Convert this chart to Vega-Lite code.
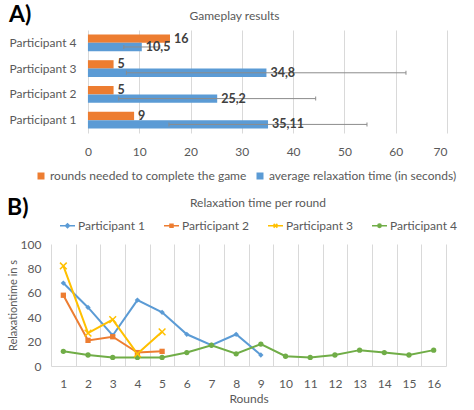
{
  "$schema": "https://vega.github.io/schema/vega-lite/v6.json",
  "background": "white",
  "padding": {"left": 7, "top": 4, "right": 4, "bottom": 4},
  "spacing": 15,
  "resolve": {"scale": {"color": "independent"}, "legend": {"color": "independent"}},
  "config": {
    "font": "Lato",
    "view": {"stroke": null},
    "axis": {"labelColor": "#595959", "titleColor": "#595959", "labelFontSize": 12, "titleFontSize": 12, "titleFontWeight": "normal", "gridColor": "#D9D9D9", "domain": false, "ticks": false},
    "legend": {"labelColor": "#595959", "labelFontSize": 12, "labelLimit": 400, "titleColor": "#595959", "titleFontSize": 12, "titleFontWeight": "normal"},
    "title": {"color": "#000000", "fontSize": 23, "fontWeight": "bold"}
  },
  "vconcat": [
    {
      "title": {"text": "A)", "anchor": "start", "frame": "bounds", "offset": -18},
      "width": 396,
      "height": 103,
      "data": {"values": [
        {"p": "Participant 1", "s": "rounds needed to complete the game", "v": 9, "lab": "9"},
        {"p": "Participant 1", "s": "average relaxation time (in seconds)", "v": 35.11, "lab": "35,11", "lo": 15.8, "hi": 54.4},
        {"p": "Participant 2", "s": "rounds needed to complete the game", "v": 5, "lab": "5"},
        {"p": "Participant 2", "s": "average relaxation time (in seconds)", "v": 25.2, "lab": "25,2", "lo": 6.0, "hi": 44.4},
        {"p": "Participant 3", "s": "rounds needed to complete the game", "v": 5, "lab": "5"},
        {"p": "Participant 3", "s": "average relaxation time (in seconds)", "v": 34.8, "lab": "34,8", "lo": 7.5, "hi": 62.0},
        {"p": "Participant 4", "s": "rounds needed to complete the game", "v": 16, "lab": "16"},
        {"p": "Participant 4", "s": "average relaxation time (in seconds)", "v": 10.5, "lab": "10,5", "lo": 7.0, "hi": 14.0}
      ]},
      "resolve": {"axis": {"x": "independent"}},
      "encoding": {
        "y": {"field": "p", "type": "nominal", "sort": "descending", "title": null,
              "scale": {"paddingInner": 0.35, "paddingOuter": 0.17},
              "axis": {"labelPadding": -25, "grid": false}},
        "yOffset": {"field": "s", "type": "nominal",
              "scale": {"domain": ["rounds needed to complete the game", "average relaxation time (in seconds)"], "paddingInner": 0, "paddingOuter": 0}}
      },
      "layer": [
        {
          "mark": {"type": "bar"},
          "encoding": {
            "x": {"field": "v", "type": "quantitative", "title": null,
                  "scale": {"domain": [-7.2, 70], "nice": false, "zero": false},
                  "axis": {"orient": "bottom", "values": [0, 10, 20, 30, 40, 50, 60, 70], "grid": true, "labelPadding": 13}},
            "color": {"field": "s", "type": "nominal",
                  "scale": {"domain": ["rounds needed to complete the game", "average relaxation time (in seconds)"], "range": ["#ED7D31", "#5B9BD5"]},
                  "legend": {"orient": "none", "legendX": -16, "legendY": 140, "direction": "horizontal", "title": null, "symbolType": "square", "symbolSize": 49, "symbolStrokeWidth": 0, "columnPadding": 7, "labelOffset": 3}}
          }
        },
        {
          "transform": [{"filter": "datum.lo != null"}],
          "mark": {"type": "rule", "color": "#8C8C8C", "strokeWidth": 1},
          "encoding": {
            "x": {"field": "lo", "type": "quantitative",
                  "axis": {"orient": "top", "title": "Gameplay results", "labels": false, "grid": false, "domain": false, "ticks": false, "titlePadding": 8, "titleX": 183, "titleFontSize": 12}},
            "x2": {"field": "hi"}
          }
        },
        {
          "transform": [{"filter": "datum.lo != null"}],
          "mark": {"type": "tick", "color": "#8C8C8C", "thickness": 1, "size": 4, "opacity": 1},
          "encoding": {"x": {"field": "lo", "type": "quantitative", "axis": null}}
        },
        {
          "transform": [{"filter": "datum.lo != null"}],
          "mark": {"type": "tick", "color": "#8C8C8C", "thickness": 1, "size": 4, "opacity": 1},
          "encoding": {"x": {"field": "hi", "type": "quantitative", "axis": null}}
        },
        {
          "mark": {"type": "text", "align": "left", "baseline": "middle", "dx": 4, "fontWeight": "bold", "fontSize": 12.5, "color": "#404040"},
          "encoding": {"x": {"field": "v", "type": "quantitative", "axis": null}, "text": {"field": "lab"}}
        }
      ]
    },
    {
      "title": {"text": "B)", "anchor": "start", "frame": "bounds", "offset": -22},
      "width": 395,
      "height": 122,
      "data": {"values": [
        {"p": "Participant 1", "r": 1, "t": 68}, {"p": "Participant 1", "r": 2, "t": 48}, {"p": "Participant 1", "r": 3, "t": 25},
        {"p": "Participant 1", "r": 4, "t": 54}, {"p": "Participant 1", "r": 5, "t": 44}, {"p": "Participant 1", "r": 6, "t": 26},
        {"p": "Participant 1", "r": 7, "t": 17}, {"p": "Participant 1", "r": 8, "t": 26}, {"p": "Participant 1", "r": 9, "t": 9},
        {"p": "Participant 2", "r": 1, "t": 58}, {"p": "Participant 2", "r": 2, "t": 21}, {"p": "Participant 2", "r": 3, "t": 24},
        {"p": "Participant 2", "r": 4, "t": 11}, {"p": "Participant 2", "r": 5, "t": 12},
        {"p": "Participant 3", "r": 1, "t": 82}, {"p": "Participant 3", "r": 2, "t": 27}, {"p": "Participant 3", "r": 3, "t": 38},
        {"p": "Participant 3", "r": 4, "t": 10}, {"p": "Participant 3", "r": 5, "t": 28},
        {"p": "Participant 4", "r": 1, "t": 12}, {"p": "Participant 4", "r": 2, "t": 9}, {"p": "Participant 4", "r": 3, "t": 7},
        {"p": "Participant 4", "r": 4, "t": 7}, {"p": "Participant 4", "r": 5, "t": 7}, {"p": "Participant 4", "r": 6, "t": 11},
        {"p": "Participant 4", "r": 7, "t": 17}, {"p": "Participant 4", "r": 8, "t": 10}, {"p": "Participant 4", "r": 9, "t": 18},
        {"p": "Participant 4", "r": 10, "t": 8}, {"p": "Participant 4", "r": 11, "t": 7}, {"p": "Participant 4", "r": 12, "t": 9},
        {"p": "Participant 4", "r": 13, "t": 13}, {"p": "Participant 4", "r": 14, "t": 11}, {"p": "Participant 4", "r": 15, "t": 9},
        {"p": "Participant 4", "r": 16, "t": 13}
      ]},
      "encoding": {
        "x": {"field": "r", "type": "ordinal", "title": "Rounds",
              "scale": {"type": "band", "paddingInner": 0, "paddingOuter": 0},
              "axis": {"labelAngle": 0, "grid": true, "tickBand": "extent", "domain": true, "domainColor": "#D9D9D9", "labelPadding": 12, "titlePadding": 4}},
        "y": {"field": "t", "type": "quantitative", "title": "Relaxationtime in s",
              "scale": {"domain": [0, 100], "nice": false},
              "axis": {"values": [0, 20, 40, 60, 80, 100], "grid": false, "labelPadding": 10, "titlePadding": 2, "titleFontSize": 11}},
        "color": {"field": "p", "type": "nominal",
              "scale": {"domain": ["Participant 1", "Participant 2", "Participant 3", "Participant 4"], "range": ["#5B9BD5", "#ED7D31", "#FFC000", "#70AD47"]},
              "legend": {"orient": "none", "legendX": 8, "legendY": -46, "direction": "horizontal",
                         "title": "Relaxation time per round", "titleAnchor": "middle", "titleOrient": "top", "titlePadding": 7,
                         "symbolSize": 225, "labelOffset": 2, "columnPadding": 16, "symbolOpacity": 1,
                         "encode": {"symbols": {"update": {
                           "shape": {"signal": "datum.value === 'Participant 1' ? 'M-1,0L1,0M0,-0.27L0.27,0L0,0.27L-0.27,0Z' : datum.value === 'Participant 2' ? 'M-1,0L1,0M-0.2,-0.2L0.2,-0.2L0.2,0.2L-0.2,0.2Z' : datum.value === 'Participant 3' ? 'M-1,0L1,0M-0.25,-0.25L0.25,0.25M-0.25,0.25L0.25,-0.25' : 'M-1,0L1,0M0.22,0A0.22,0.22 0 1,1 -0.22,0A0.22,0.22 0 1,1 0.22,0Z'"},
                           "fill": {"signal": "scale('color', datum.value)"},
                           "stroke": {"signal": "scale('color', datum.value)"},
                           "strokeWidth": {"value": 1.5},
                           "opacity": {"value": 1}
                         }}}}}
      },
      "layer": [
        {"mark": {"type": "line", "strokeWidth": 2}},
        {
          "transform": [{"filter": "datum.p !== 'Participant 3'"}],
          "mark": {"type": "point", "filled": true, "size": 28, "opacity": 1},
          "encoding": {
            "shape": {"field": "p", "type": "nominal",
                      "scale": {"domain": ["Participant 1", "Participant 2", "Participant 4"], "range": ["diamond", "square", "circle"]},
                      "legend": null}
          }
        },
        {
          "transform": [{"filter": "datum.p === 'Participant 3'"}],
          "mark": {"type": "point", "filled": false, "size": 45, "strokeWidth": 1.5, "opacity": 1, "shape": "M-1,-1L1,1M-1,1L1,-1"}
        }
      ]
    }
  ]
}
